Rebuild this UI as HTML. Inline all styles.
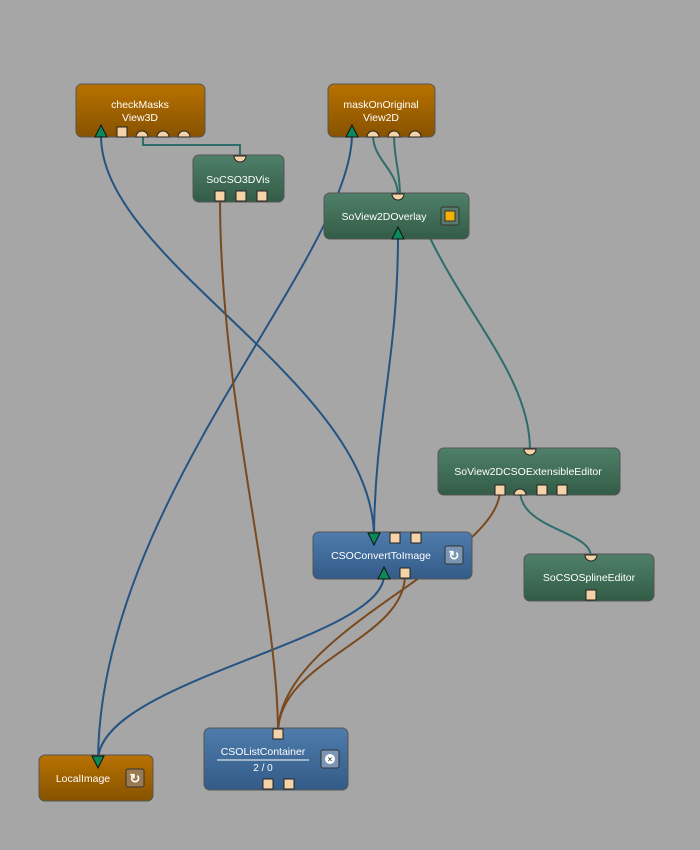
<!DOCTYPE html>
<html><head><style>
body{margin:0;background:#a6a6a6;}
svg{display:block;font-family:"Liberation Sans",sans-serif;}
</style></head><body>
<svg width="700" height="850" viewBox="0 0 700 850">
<defs>
<linearGradient id="or" x1="0" y1="0" x2="0" y2="1"><stop offset="0" stop-color="#b87200"/><stop offset="1" stop-color="#875200"/></linearGradient>
<linearGradient id="gr" x1="0" y1="0" x2="0" y2="1"><stop offset="0" stop-color="#4f8069"/><stop offset="1" stop-color="#335c47"/></linearGradient>
<linearGradient id="bl" x1="0" y1="0" x2="0" y2="1"><stop offset="0" stop-color="#4e7cac"/><stop offset="1" stop-color="#335b88"/></linearGradient>
</defs>
<rect width="700" height="850" fill="#a6a6a6"/>
<g fill="none" stroke-width="2">
<path d="M101,135 C100,260 370,380 374,535" stroke="#255482"/>
<path d="M352,135 C350,260 100,500 98,760" stroke="#255482"/>
<path d="M398,235 C398,360 375,420 374,535" stroke="#255482"/>
<path d="M384,575 C384,640 100,680 98,760" stroke="#255482"/>
<path d="M143,135 V145 H240 V158" stroke="#2f6d6a"/>
<path d="M373,135 C373,160 398,170 398,196" stroke="#2f6d6a"/>
<path d="M394,135 C394,160 400,170 400,196" stroke="#2f6d6a"/>
<path d="M430,238 C470,320 530,380 530,450" stroke="#2f6d6a"/>
<path d="M520,490 C520,530 591,530 591,557" stroke="#2f6d6a"/>
<path d="M220,198 C220,400 278,600 278,733" stroke="#7a4a1e"/>
<path d="M500,490 C500,560 278,630 278,733" stroke="#7a4a1e"/>
<path d="M405,575 C405,640 278,660 278,733" stroke="#7a4a1e"/>
</g>
<g stroke="#555" stroke-width="1">
<rect x="76" y="84" width="129" height="53" rx="6" fill="url(#or)"/>
<rect x="328" y="84" width="107" height="53" rx="6" fill="url(#or)"/>
<rect x="193" y="155" width="91" height="47" rx="6" fill="url(#gr)"/>
<rect x="324" y="193" width="145" height="46" rx="6" fill="url(#gr)"/>
<rect x="438" y="448" width="182" height="47" rx="6" fill="url(#gr)"/>
<rect x="524" y="554" width="130" height="47" rx="6" fill="url(#gr)"/>
<rect x="313" y="532" width="159" height="47" rx="6" fill="url(#bl)"/>
<rect x="204" y="728" width="144" height="62" rx="6" fill="url(#bl)"/>
<rect x="39" y="755" width="114" height="46" rx="6" fill="url(#or)"/>
</g>
<g fill="#fff" font-size="10.5" text-anchor="middle">
<text x="140" y="108">checkMasks</text><text x="140" y="121">View3D</text>
<text x="381" y="108">maskOnOriginal</text><text x="381" y="121">View2D</text>
<text x="238" y="183">SoCSO3DVis</text>
<text x="384" y="220">SoView2DOverlay</text>
<text x="528" y="475">SoView2DCSOExtensibleEditor</text>
<text x="589" y="581">SoCSOSplineEditor</text>
<text x="381" y="559">CSOConvertToImage</text>
<text x="263" y="755">CSOListContainer</text>
<text x="263" y="771" font-size="10">2 / 0</text>
<text x="83" y="782">LocalImage</text>
</g>
<line x1="217" y1="760" x2="309" y2="760" stroke="#fff"/>
<g fill="#f5d3a8" stroke="#222" stroke-width="1">
<rect x="117" y="127" width="10" height="10"/>
<path d="M136,137 a6,6 0 0 1 12,0z M157,137 a6,6 0 0 1 12,0z M178,137 a6,6 0 0 1 12,0z"/>
<path d="M367,137 a6,6 0 0 1 12,0z M388,137 a6,6 0 0 1 12,0z M409,137 a6,6 0 0 1 12,0z"/>
<path d="M234,156 a6,6 0 0 0 12,0z"/>
<rect x="215" y="191" width="10" height="10"/><rect x="236" y="191" width="10" height="10"/><rect x="257" y="191" width="10" height="10"/>
<path d="M392,194 a6,6 0 0 0 12,0z"/>
<path d="M524,449 a6,6 0 0 0 12,0z"/>
<rect x="495" y="485" width="10" height="10"/><path d="M514,495 a6,6 0 0 1 12,0z"/><rect x="537" y="485" width="10" height="10"/><rect x="557" y="485" width="10" height="10"/>
<path d="M585,555 a6,6 0 0 0 12,0z"/>
<rect x="586" y="590" width="10" height="10"/>
<rect x="390" y="533" width="10" height="10"/><rect x="411" y="533" width="10" height="10"/>
<rect x="400" y="568" width="10" height="10"/>
<rect x="273" y="729" width="10" height="10"/>
<rect x="263" y="779" width="10" height="10"/><rect x="284" y="779" width="10" height="10"/>
</g>
<g fill="#0a8a5a" stroke="#111" stroke-width="1">
<path d="M95,137 L101,125 L107,137z"/>
<path d="M346,137 L352,125 L358,137z"/>
<path d="M392,239 L398,227 L404,239z"/>
<path d="M378,579 L384,567 L390,579z"/>
<path d="M368,533 L380,533 L374,545z"/>
<path d="M92,756 L104,756 L98,768z"/>
</g>
<rect x="441" y="207" width="18" height="18" rx="2" fill="#5a7a6a" stroke="#333"/>
<rect x="445" y="211" width="10" height="10" fill="#f7b100" stroke="#333"/>
<rect x="445" y="546" width="18" height="18" rx="2" fill="#7a96b4" stroke="#333"/>
<text x="454" y="560" fill="#fff" font-size="13" text-anchor="middle" font-weight="bold">↻</text>
<rect x="126" y="769" width="18" height="18" rx="2" fill="#9a7a50" stroke="#333"/>
<text x="135" y="783" fill="#fff" font-size="13" text-anchor="middle" font-weight="bold">↻</text>
<rect x="321" y="750" width="18" height="18" rx="2" fill="#7a96b4" stroke="#333"/>
<circle cx="330" cy="759" r="5" fill="#fff"/>
<text x="330" y="762" fill="#456" font-size="8" text-anchor="middle" font-weight="bold">×</text>
</svg>
</body></html>
